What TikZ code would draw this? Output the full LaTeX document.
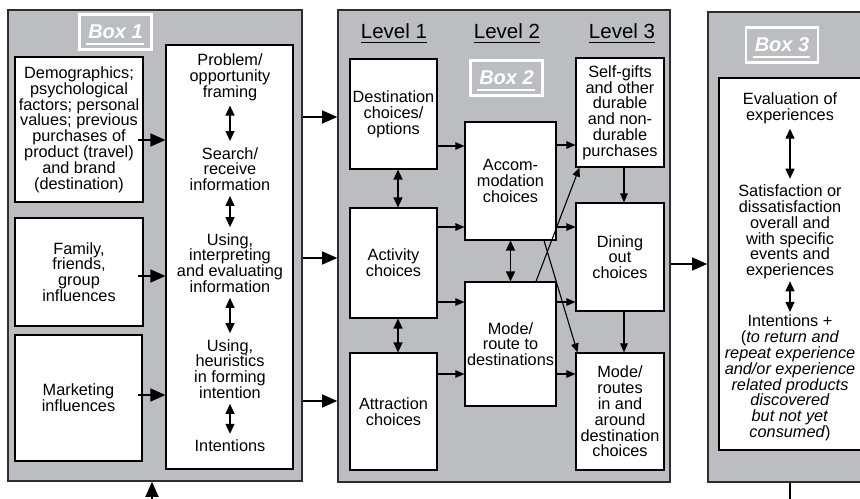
\documentclass[tikz,border=0pt]{standalone}
\usepackage{fontspec}
\setmainfont{Liberation Sans}
\usetikzlibrary{arrows.meta}
\definecolor{panel}{RGB}{188,189,192}
\definecolor{framec}{RGB}{45,45,45}
\begin{document}
\begin{tikzpicture}[x=1bp,y=-1bp,
  txt/.style={align=center,font=\fontsize{16.3bp}{15.8bp}\selectfont,inner sep=0pt,text=black},
  panelbox/.style={draw=framec,fill=panel,line width=1.6bp},
  wbox/.style={draw=black,fill=white,line width=1.1bp,align=center,font=\fontsize{16.3bp}{15.8bp}\selectfont,inner sep=1bp},
  lbl/.style={draw=white,line width=2.2bp,fill=panel,text=white,font=\fontsize{20bp}{21bp}\selectfont\bfseries\itshape,minimum width=72bp,minimum height=35bp,inner sep=0pt},
  uline/.style={draw=white,line width=2bp},
  big/.style={-{Triangle[length=15bp,width=13bp]},line width=1.1bp},
  sarr/.style={-{Triangle[length=9bp,width=7.5bp]},line width=1.1bp},
  dbl/.style={{Triangle[length=10bp,width=9bp]}-{Triangle[length=10bp,width=9bp]},line width=1.3bp},
  lev/.style={font=\fontsize{20.5bp}{21bp}\selectfont,inner sep=0pt}
]
\useasboundingbox (0,0) rectangle (860,499);
\clip (0,0) rectangle (860,499);
\fill[white] (0,0) rectangle (860,499);

% ---------- Box 1 ----------
\node[panelbox,minimum width=294bp,minimum height=471bp] (B1) at (155,245.5) {};
\node[lbl] (lb1) at (115.5,32) {Box 1};
\draw[uline] ([xshift=8bp,yshift=7bp]lb1.south west) -- ([xshift=-9bp,yshift=7bp]lb1.south east);

\node[wbox,minimum width=128bp,minimum height=145bp] (demo) at (79,129.5)
  {Demographics;\\psychological\\factors; personal\\values; previous\\purchases of\\product (travel)\\and brand\\(destination)};
\node[wbox,minimum width=128bp,minimum height=108bp] (fam) at (79,272)
  {Family,\\friends,\\group\\influences};
\node[wbox,minimum width=127bp,minimum height=126bp] (mkt) at (78.5,398)
  {Marketing\\influences};
\node[wbox,minimum width=127bp,minimum height=424bp] (proc) at (229.5,257) {};

\node[txt] (p1) at (230,77) {Problem/\\opportunity\\framing};
\node[txt] (p2) at (230,169) {Search/\\receive\\information};
\node[txt] (p3) at (230,263) {Using,\\interpreting\\and evaluating\\information};
\node[txt] (p4) at (230,369) {Using,\\heuristics\\in forming\\intention};
\node[txt] (p5) at (230,446) {Intentions};
\draw[dbl] ([yshift=-5bp]p1.south) -- ([yshift=6bp]p2.north);
\draw[dbl] ([yshift=-5bp]p2.south) -- ([yshift=6bp]p3.north);
\draw[dbl] ([yshift=-5bp]p3.south) -- ([yshift=6bp]p4.north);
\draw[dbl] ([yshift=-5bp]p4.south) -- ([yshift=6bp]p5.north);

\draw[big] ([xshift=-6bp]demo.east |- 0,140) -- (proc.west |- 0,140);
\draw[big] ([xshift=-6bp]fam.east |- 0,276) -- (proc.west |- 0,276);
\draw[big] ([xshift=-5bp]mkt.east |- 0,395) -- (proc.west |- 0,395);

% ---------- Box 2 ----------
\node[panelbox,minimum width=332bp,minimum height=472bp] (B2) at (504,246) {};
\node[lev] (L1) at (394,31) {Level 1};
\node[lev] (L2) at (507,31) {Level 2};
\node[lev] (L3) at (622,31) {Level 3};
\foreach \l in {L1,L2,L3}{
  \draw[line width=1.2bp] ([yshift=-4bp]\l.south west) -- ([yshift=-4bp]\l.south east);
}
\node[lbl] (lb2) at (506.5,78) {Box 2};
\draw[uline] ([xshift=8bp,yshift=7bp]lb2.south west) -- ([xshift=-9bp,yshift=7bp]lb2.south east);

\node[wbox,minimum width=87bp,minimum height=110bp] (dest) at (393.5,114) {Destination\\choices/\\options};
\node[wbox,minimum width=87bp,minimum height=110bp] (act) at (393.5,263) {Activity\\choices};
\node[wbox,minimum width=87bp,minimum height=117bp] (attr) at (393.5,411.5) {Attraction\\choices};
\node[wbox,minimum width=91bp,minimum height=118bp] (acc) at (510.5,181) {Accom-\\modation\\choices};
\node[wbox,minimum width=91bp,minimum height=124bp] (mode) at (510.5,344) {Mode/\\route to\\destinations};
\node[wbox,minimum width=88bp,minimum height=109bp] (self) at (620,112.5) {Self-gifts\\and other\\durable\\and non-\\durable\\purchases};
\node[wbox,minimum width=88bp,minimum height=108bp] (dine) at (620,257) {Dining\\out\\choices};
\node[wbox,minimum width=88bp,minimum height=117bp] (modes) at (620,411.5) {Mode/\\routes\\in and\\around\\destination\\choices};

\draw[sarr] (dest.east |- 0,146) -- (acc.west |- 0,146);
\draw[sarr] (act.east |- 0,227) -- (acc.west |- 0,227);
\draw[sarr] (act.east |- 0,302) -- (mode.west |- 0,302);
\draw[sarr] (attr.east |- 0,374) -- (mode.west |- 0,374);
\draw[sarr] (acc.east |- 0,145) -- (self.west |- 0,145);
\draw[sarr] (acc.east |- 0,227) -- (dine.west |- 0,227);
\draw[sarr] (mode.east |- 0,302) -- (dine.west |- 0,302);
\draw[sarr] (mode.east |- 0,374) -- (modes.west |- 0,374);
\draw[sarr] ([xshift=4bp]self.south) -- ([xshift=4bp]dine.north);
\draw[sarr] ([xshift=4bp]dine.south) -- ([xshift=4bp]modes.north);
\draw[dbl] ([xshift=4.5bp]dest.south) -- ([xshift=4.5bp]act.north);
\draw[dbl] ([xshift=4.5bp]act.south) -- ([xshift=4.5bp]attr.north);
\draw[dbl] (acc.south) -- (mode.north);
\draw[sarr] (mode.north -| 536,0) -- ([xshift=4bp]self.south west);
\draw[sarr] (acc.south -| 544,0) -- ([xshift=2bp]modes.north west);

% ---------- Box 3 ----------
\node[panelbox,minimum width=166bp,minimum height=470bp] (B3) at (791,247) {};
\node[lbl] (lb3) at (782,45) {Box 3};
\draw[uline] ([xshift=8bp,yshift=7bp]lb3.south west) -- ([xshift=-9bp,yshift=7bp]lb3.south east);
\node[wbox,minimum width=144bp,minimum height=372bp] (eval) at (791,264) {};
\node[txt] (e1) at (790,108) {Evaluation of\\experiences};
\node[txt] (e2) at (790,232) {Satisfaction or\\dissatisfaction\\overall and\\with specific\\events and\\experiences};
\node[txt] (e3) at (790,378) {Intentions +\\(\textit{to return and}\\\textit{repeat experience}\\\textit{and/or experience}\\\textit{related products}\\\textit{discovered}\\\textit{but not yet}\\\textit{consumed})};
\draw[dbl] ([yshift=-5bp]e1.south) -- ([yshift=6bp]e2.north);
\draw[dbl] ([yshift=-2bp]e2.south) -- ([yshift=3bp]e3.north);

% ---------- connections between panels ----------
\draw[big] (B1.east |- 0,117) -- (B2.west |- 0,117);
\draw[big] (B1.east |- 0,258) -- (B2.west |- 0,258);
\draw[big] (B1.east |- 0,401) -- (B2.west |- 0,401);
\draw[big] (B2.east |- 0,264) -- (B3.west |- 0,264);

\coordinate (fb1) at (152,499);
\coordinate (fb3) at (790,499);
\draw[big] (fb1) -- (B1.south -| fb1);
\draw[line width=1.1bp] (B3.south -| fb3) -- (fb3);
\end{tikzpicture}
\end{document}
